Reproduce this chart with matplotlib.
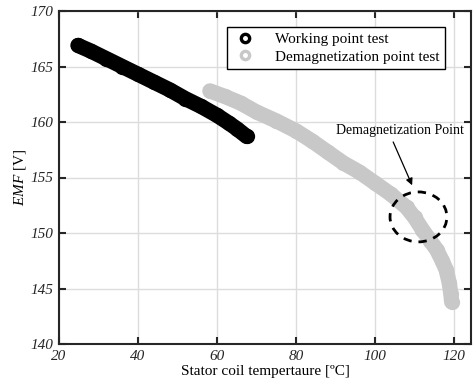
import matplotlib
matplotlib.use("Agg")
import matplotlib.pyplot as plt
from matplotlib.lines import Line2D
from matplotlib.patches import Ellipse

working_x = [24.8, 28, 32, 36, 40, 44, 48, 52, 56, 60, 63, 65, 67.5]
working_y = [166.9, 166.4, 165.7, 165.0, 164.3, 163.6, 162.9, 162.1, 161.4, 160.6, 159.9, 159.4, 158.7]

demag_x = [58.2, 62, 66, 70, 75, 80, 84, 88, 92, 96, 100, 104, 108, 110, 112, 114, 115.6, 117, 118, 118.8, 119.2, 119.4]
demag_y = [162.8, 162.3, 161.7, 160.9, 160.1, 159.2, 158.3, 157.3, 156.3, 155.5, 154.5, 153.5, 152.3, 151.4, 150.3, 149.3, 148.5, 147.5, 146.7, 145.5, 144.5, 143.8]

xticks = [20, 40, 60, 80, 100, 120]
yticks = [140, 145, 150, 155, 160, 165, 170]

plt.rcParams['font.family'] = ['Liberation Serif', 'DejaVu Serif']
plt.rcParams['mathtext.fontset'] = 'custom'
plt.rcParams['mathtext.rm'] = 'Liberation Serif'
plt.rcParams['mathtext.it'] = 'Liberation Serif:italic'
fig = plt.figure(figsize=(4.73, 3.88), dpi=100)
ax = fig.add_axes([59/473, 44/388, (471-59)/473, (344-11)/388])

gray = '#c8c8c8'
ax.plot(working_x, working_y, '-o', color='black', lw=11, ms=11, mew=0,
        solid_capstyle='round', solid_joinstyle='round', zorder=3)
ax.plot(demag_x, demag_y, '-o', color=gray, lw=11, ms=11, mew=0,
        solid_capstyle='round', solid_joinstyle='round', zorder=2)

ax.set_xlim(20, 124.3)
ax.set_ylim(140, 170)
ax.set_xticks(xticks)
ax.set_yticks(yticks)
ax.grid(True, color='#dcdcdc', lw=1)
ax.set_axisbelow(True)
for lab in ax.get_xticklabels() + ax.get_yticklabels():
    lab.set_fontstyle('italic')
ax.tick_params(direction='in', length=5, width=1.5, top=True, right=True,
               labelsize=11, colors='#262626', pad=4)
for s in ax.spines.values():
    s.set_linewidth(1.5)
    s.set_color('#262626')

ax.set_xlabel('Stator coil tempertaure [ºC]', fontsize=11, labelpad=2)
ax.set_ylabel(r'$\mathit{EMF}$ [V]', fontsize=11, labelpad=2)

handles = [Line2D([], [], ls='none', marker='o', ms=6, mew=2.4, mfc='none', mec='black'),
           Line2D([], [], ls='none', marker='o', ms=6, mew=2.4, mfc='none', mec=gray)]
leg = ax.legend(handles, ['Working point test', 'Demagnetization point test'],
                loc='upper right', bbox_to_anchor=((445 - 59)/412, 1 - 16/333),
                bbox_transform=ax.transAxes, fontsize=11, fancybox=False,
                framealpha=1, edgecolor='black', borderpad=0.35, handletextpad=1.2,
                labelspacing=0.25, borderaxespad=0, handlelength=1.6)
leg.get_frame().set_linewidth(1)

ax.add_patch(Ellipse((111.0, 151.45), 14.4, 4.5, fill=False, ec='black',
                     lw=2, ls=(0, (3, 2.5)), zorder=5))
ax.text(106.2, 159.2, 'Demagnetization Point', ha='center', va='center', fontsize=10)
ax.annotate('', xy=(109.4, 154.3), xytext=(104.6, 158.2),
            arrowprops=dict(arrowstyle='-|>', color='black', lw=0.9,
                            mutation_scale=10, shrinkA=0, shrinkB=0))

fig.savefig('out.png', dpi=100)
